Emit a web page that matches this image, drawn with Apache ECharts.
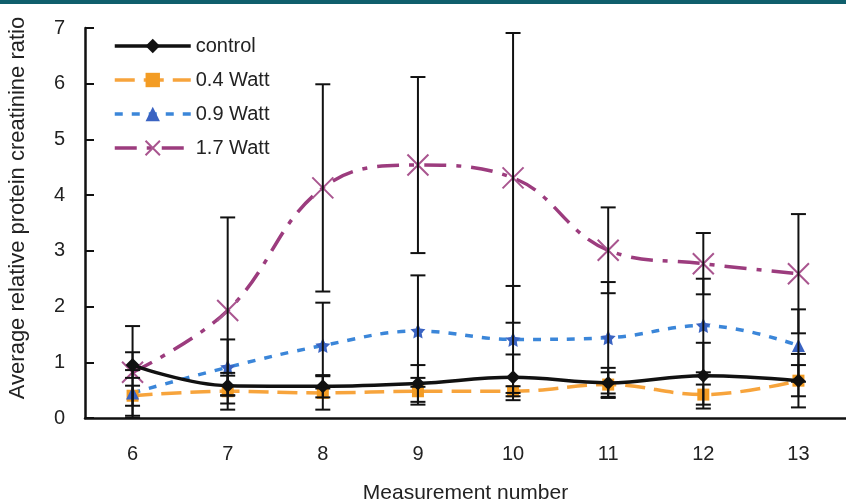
<!DOCTYPE html>
<html>
<head>
<meta charset="utf-8">
<script src="https://cdn.jsdelivr.net/npm/echarts@6/dist/echarts.min.js"></script>
<style>
html,body{margin:0;padding:0;background:#fff;}
#main{width:846px;height:504px;}
</style>
</head>
<body>
<div id="main"></div>
<script>
// 数据
var categories=['6','7','8','9','10','11','12','13'];
var yTicks=[0,1,2,3,4,5,6,7];
var control=[0.95,0.58,0.57,0.62,0.73,0.63,0.76,0.67];
var watt04=[0.40,0.48,0.45,0.48,0.48,0.60,0.42,0.67];
var watt09=[0.45,0.91,1.30,1.56,1.41,1.44,1.66,1.30];
var watt17=[0.82,1.93,4.13,4.54,4.31,3.01,2.77,2.59];
// 标准差
var controlErr=[0.23,0.18,0.20,0.33,0.41,0.27,0.59,0.48];
var watt04Err=[0.18,0.33,0.30,0.24,0.09,0.22,0.18,0.28];
var watt09Err=[0.41,0.50,0.77,1.00,0.96,1.00,0.84,0.65];
var watt17Err=[0.83,1.67,1.86,1.58,2.60,0.77,0.55,1.07];

var fontName='"Liberation Sans", Arial, sans-serif';
var starPath='path://M0,-10L2.9,-4L9.5,-3.1L4.7,1.5L5.9,8.1L0,5L-5.9,8.1L-4.7,1.5L-9.5,-3.1L-2.9,-4Z';
var crossPath='path://M0,0L10,10M10,0L0,10';

var myChart=echarts.init(document.getElementById('main'));

function errData(vals,errs){
    var arr=[];
    for(var i=0;i<vals.length;i++){
        arr.push([i,vals[i],errs[i]]);
    }
    return arr;
};

function renderErr(params,api){
    var x=api.value(0);
    var m=api.value(1);
    var e=api.value(2);
    var lo=Math.max(0,m-e);
    var hi=m+e;
    var pTop=api.coord([x,hi]);
    var pBot=api.coord([x,lo]);
    var w=7.5;
    var st={stroke:'#111',lineWidth:2};
    return {
        type:'group',
        children:[
            {type:'line',shape:{x1:pTop[0],y1:pTop[1],x2:pBot[0],y2:pBot[1]},style:st},
            {type:'line',shape:{x1:pTop[0]-w,y1:pTop[1],x2:pTop[0]+w,y2:pTop[1]},style:st},
            {type:'line',shape:{x1:pBot[0]-w,y1:pBot[1],x2:pBot[0]+w,y2:pBot[1]},style:st}
        ]
    };
};

function errSeries(vals,errs){
    return {
        type:'custom',
        renderItem:renderErr,
        data:errData(vals,errs),
        encode:{x:0,y:1},
        z:5,
        silent:true
    };
};

var blueData=watt09.map(function(v,i){
    if(i>0 && i<watt09.length-1){
        return {value:v,symbol:starPath,symbolSize:15};
    }
    return v;
});

var option={
    backgroundColor:'#fff',
    animation:false,
    textStyle:{fontFamily:fontName},
    graphic:[
        {type:'rect',left:0,top:0,shape:{width:846,height:4},style:{fill:'#0f5f6c'}}
    ],
    grid:{left:85,right:0,top:28,bottom:86,outerBoundsMode:'none',containLabel:false},
    legend:{
        orient:'vertical',
        left:108,
        top:31,
        itemWidth:76,
        itemHeight:18,
        itemGap:14,
        lineStyle:{width:3.5},
        data:['control','0.4 Watt','0.9 Watt','1.7 Watt'],
        textStyle:{fontSize:20,color:'#222',fontFamily:fontName}
    },
    xAxis:{
        type:'category',
        data:categories,
        name:'Measurement number',
        nameLocation:'middle',
        nameGap:65,
        nameTextStyle:{fontSize:21,color:'#222'},
        axisLine:{lineStyle:{color:'#111',width:2.5}},
        axisTick:{show:false},
        axisLabel:{fontSize:20,color:'#222',margin:26}
    },
    yAxis:{
        type:'value',
        min:yTicks[0],
        max:yTicks[yTicks.length-1],
        interval:1,
        name:'Average relative protein creatinine ratio',
        nameLocation:'middle',
        nameGap:56,
        nameTextStyle:{fontSize:22,color:'#222',padding:[0,0,0,30]},
        axisLine:{show:true,lineStyle:{color:'#111',width:2.5}},
        axisTick:{show:true,inside:true,length:9,lineStyle:{color:'#111',width:2}},
        axisLabel:{fontSize:20,color:'#222',margin:20},
        splitLine:{show:false}
    },
    series:[
        {
            name:'control',
            type:'line',
            data:control,
            smooth:0.4,
            symbol:'diamond',
            symbolSize:14,
            lineStyle:{color:'#111',width:3.5,type:'solid'},
            itemStyle:{color:'#111'},
            z:4
        },
        {
            name:'0.4 Watt',
            type:'line',
            data:watt04,
            smooth:0.4,
            symbol:'rect',
            symbolSize:12,
            lineStyle:{color:'#f7a43c',width:3.5,type:[20,9]},
            itemStyle:{color:'#f39c24'},
            z:3
        },
        {
            name:'0.9 Watt',
            type:'line',
            data:blueData,
            smooth:0.4,
            symbol:'triangle',
            symbolSize:13,
            lineStyle:{color:'#3b86d9',width:3.5,type:[8,9]},
            itemStyle:{color:'#3a63c2'},
            z:3
        },
        {
            name:'1.7 Watt',
            type:'line',
            data:watt17,
            smooth:0.4,
            symbol:crossPath,
            symbolSize:21,
            lineStyle:{color:'#9c3c7e',width:3.5,type:[22,10,5,10]},
            itemStyle:{color:'none',borderColor:'#a9558f',borderWidth:2},
            z:3
        },
        errSeries(control,controlErr),
        errSeries(watt04,watt04Err),
        errSeries(watt09,watt09Err),
        errSeries(watt17,watt17Err)
    ]
};

myChart.setOption(option);
</script>
</body>
</html>
